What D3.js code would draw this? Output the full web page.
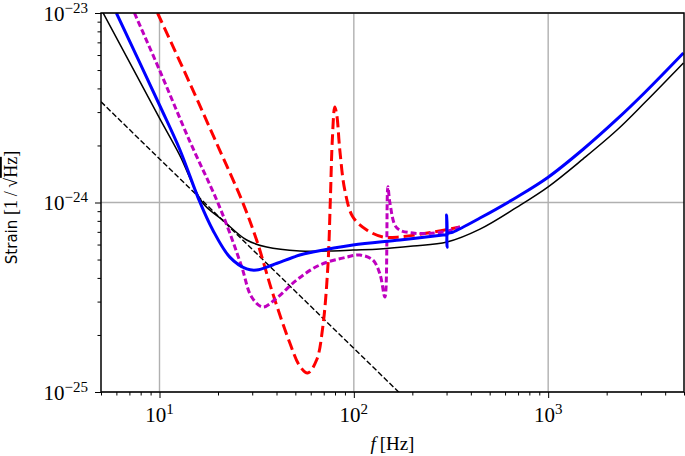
<!DOCTYPE html>
<html>
<head>
<meta charset="utf-8">
<script src="https://cdn.jsdelivr.net/npm/d3@7"></script>
<style>
  body { margin: 0; background: #fff; }
  svg { display: block; }
</style>
</head>
<body>
<div class="displayArea"></div>
<script>
var width = 685, height = 456;
var plotLeft = 101, plotRight = 684, plotTop = 13, plotBottom = 392; // window.top is reserved, so no plain "top"

// curves (frequency in Hz, strain in 1/sqrt(Hz))
var blackFreq = [5, 10, 12.7, 16.7, 21.1, 28.1, 35.6, 52.7, 75.2, 98.9, 136, 201.5, 301.5, 445.7, 692, 1000, 1514, 2268, 3162, 4966];
var blackStrain = [1.05e-23, 2.79e-24, 1.78e-24, 9.94e-25, 8.09e-25, 6.34e-25, 5.82e-25, 5.55e-25, 5.55e-25, 5.61e-25, 5.68e-25, 5.89e-25, 6.19e-25, 7.24e-25, 9.46e-25, 1.21e-24, 1.70e-24, 2.42e-24, 3.39e-24, 5.45e-24];

var slopeFreq = [5, 200];
var slopeStrain = [3.4e-24, 8.5e-26];

var redFreq = [9.77, 14.3, 20.4, 26.5, 31.6, 38.2, 46.8, 52.7, 57.9, 64.4, 69.2, 73.5, 75.7, 77.5, 79.8, 81.7, 84.7, 89.9, 98.9, 116.6, 141, 172.7, 255.4, 351.7];
var redStrain = [1.0e-23, 4.27e-24, 1.89e-24, 1.03e-24, 6.34e-25, 3.33e-25, 1.82e-25, 1.37e-25, 1.26e-25, 1.48e-25, 2.20e-25, 4.57e-25, 1.03e-24, 2.14e-24, 3.19e-24, 2.90e-24, 1.89e-24, 1.16e-24, 8.38e-25, 7.16e-25, 6.58e-25, 6.58e-25, 6.98e-25, 7.43e-25];

var magentaFreq = [7.43, 10, 14.3, 19.7, 23.0, 26.5, 29.8, 34.0, 40.1, 50.8, 66.8, 92.0, 107.4, 125.3, 136.2, 144.5, 149.7, 153.4, 166.7, 201.5, 287.5, 351.7];
var magentaStrain = [1.0e-23, 5.0e-24, 2.11e-24, 1.03e-24, 6.90e-25, 4.57e-25, 3.17e-25, 2.81e-25, 3.13e-25, 3.90e-25, 4.68e-25, 5.15e-25, 5.28e-25, 4.97e-25, 4.20e-25, 3.17e-25, 1.21e-24, 9.94e-25, 7.33e-25, 6.90e-25, 6.98e-25, 7.43e-25];

var blueFreq = [6.0, 10, 12.7, 16.1, 18.8, 23.0, 28.1, 31.6, 38.2, 52.7, 61.5, 98.9, 172.7, 287.5, 299, 300, 302, 304, 323.6, 445.7, 692, 1000, 1514, 2268, 3162, 4966];
var blueStrain = [1.0e-23, 3.27e-24, 1.91e-24, 1.01e-24, 7.16e-25, 5.15e-25, 4.46e-25, 4.40e-25, 4.68e-25, 5.28e-25, 5.48e-25, 5.97e-25, 6.34e-25, 6.74e-25, 6.78e-25, 8.6e-25, 5.8e-25, 6.85e-25, 6.98e-25, 8.28e-25, 1.07e-24, 1.36e-24, 1.91e-24, 2.76e-24, 3.83e-24, 6.15e-24];

var xMajor = [10, 100, 1000];
var xMinor = [5, 6, 7, 8, 9, 20, 30, 40, 50, 60, 70, 80, 90, 200, 300, 400, 500, 600, 700, 800, 900, 2000, 3000, 4000, 5000];
var yMajor = [1e-25, 1e-24, 1e-23];
var yMinor = [2e-25, 3e-25, 4e-25, 5e-25, 6e-25, 7e-25, 8e-25, 9e-25, 2e-24, 3e-24, 4e-24, 5e-24, 6e-24, 7e-24, 8e-24, 9e-24];

var xScale = d3.scaleLog().domain([5, 5000]).range([plotLeft, plotRight]);
var yScale = d3.scaleLog().domain([1e-25, 1e-23]).range([plotBottom, plotTop]);

var svg = d3.select(".displayArea")
    .append("svg")
    .attr("width", width)
    .attr("height", height);

svg.append("defs").append("clipPath").attr("id", "plot")
    .append("rect")
    .attr("x", plotLeft).attr("y", plotTop)
    .attr("width", plotRight - plotLeft).attr("height", plotBottom - plotTop);

// grid at major ticks
svg.append("g").selectAll("line")
    .data(xMajor)
    .enter().append("line")
    .attr("x1", d => xScale(d)).attr("x2", d => xScale(d))
    .attr("y1", plotTop).attr("y2", plotBottom)
    .attr("stroke", "#b0b0b0").attr("stroke-width", 1.4);

svg.append("g").selectAll("line")
    .data(yMajor)
    .enter().append("line")
    .attr("y1", d => yScale(d)).attr("y2", d => yScale(d))
    .attr("x1", plotLeft).attr("x2", plotRight)
    .attr("stroke", "#b0b0b0").attr("stroke-width", 1.4);

var line = d3.line()
    .x(d => xScale(d[0]))
    .y(d => yScale(d[1]))
    .curve(d3.curveCatmullRom.alpha(0.5));

var series = [
    { f: blackFreq, s: blackStrain, color: "#000000", w: 1.5, dash: null },
    { f: slopeFreq, s: slopeStrain, color: "#000000", w: 1.4, dash: "5.5,2.4" },
    { f: redFreq, s: redStrain, color: "#ff0000", w: 3, dash: "11,5" },
    { f: magentaFreq, s: magentaStrain, color: "#bf00bf", w: 3, dash: "6,3" },
    { f: blueFreq, s: blueStrain, color: "#0000ff", w: 3, dash: null }
];

var lines = svg.append("g").attr("clip-path", "url(#plot)");

series.forEach(function (c) {
    lines.append("path")
        .datum(d3.zip(c.f, c.s))
        .attr("d", line)
        .attr("fill", "none")
        .attr("stroke", c.color)
        .attr("stroke-width", c.w)
        .attr("stroke-dasharray", c.dash)
        .attr("stroke-linejoin", "round");
});

// ticks
function ticks(axis, vals, size, transform) {
    var g = svg.append("g")
        .attr("transform", transform)
        .call(axis.tickValues(vals).tickSize(size).tickSizeOuter(0).tickFormat(""));
    g.select(".domain").remove();
    g.selectAll(".tick line").attr("stroke", "#000").attr("stroke-width", 1);
}

ticks(d3.axisBottom(xScale), xMinor, 3.5, `translate(0,${plotBottom})`);
ticks(d3.axisBottom(xScale), xMajor, 6, `translate(0,${plotBottom})`);
ticks(d3.axisLeft(yScale), yMinor, 3.5, `translate(${plotLeft},0)`);
ticks(d3.axisLeft(yScale), yMajor, 6, `translate(${plotLeft},0)`);

svg.append("rect")
    .attr("x", plotLeft).attr("y", plotTop)
    .attr("width", plotRight - plotLeft).attr("height", plotBottom - plotTop)
    .attr("fill", "none")
    .attr("stroke", "#000")
    .attr("stroke-width", 1.5);

var serif = "'Liberation Serif', 'DejaVu Serif', serif";

// tick labels as 10^n
var xLab = svg.append("g").selectAll("text")
    .data(xMajor)
    .enter().append("text")
    .attr("x", d => xScale(d))
    .attr("y", 422)
    .attr("text-anchor", "middle")
    .attr("font-family", serif)
    .attr("font-size", 21);
xLab.append("tspan").text("10");
xLab.append("tspan").attr("dy", -8).attr("font-size", 15).text(d => Math.round(Math.log10(d)));

var yLab = svg.append("g").selectAll("text")
    .data(yMajor)
    .enter().append("text")
    .attr("x", 88)
    .attr("y", d => yScale(d) + 7.5)
    .attr("text-anchor", "end")
    .attr("font-family", serif)
    .attr("font-size", 21);
yLab.append("tspan").text("10");
yLab.append("tspan").attr("dy", -8).attr("font-size", 15)
    .text(d => "\u2212" + Math.abs(Math.round(Math.log10(d))));

// axis titles
var xTitle = svg.append("text")
    .attr("x", (plotLeft + plotRight) / 2)
    .attr("y", 450)
    .attr("text-anchor", "middle")
    .attr("font-family", serif)
    .attr("font-size", 19);
xTitle.append("tspan").attr("font-style", "italic").text("f");
xTitle.append("tspan").text("\u2009[Hz]");

var yTitle = svg.append("text")
    .attr("transform", `translate(17,${(plotTop + plotBottom) / 2 + 5}) rotate(-90)`)
    .attr("text-anchor", "middle")
    .attr("font-size", 18);
yTitle.append("tspan").attr("font-family", "'DejaVu Sans', sans-serif").attr("font-size", 15).text("Strain ");
yTitle.append("tspan").attr("font-family", serif).text("[1\u2009/\u2009\u221A");
yTitle.append("tspan").attr("font-family", serif).style("text-decoration", "overline").text("Hz");
yTitle.append("tspan").attr("font-family", serif).text("]");
</script>
</body>
</html>
